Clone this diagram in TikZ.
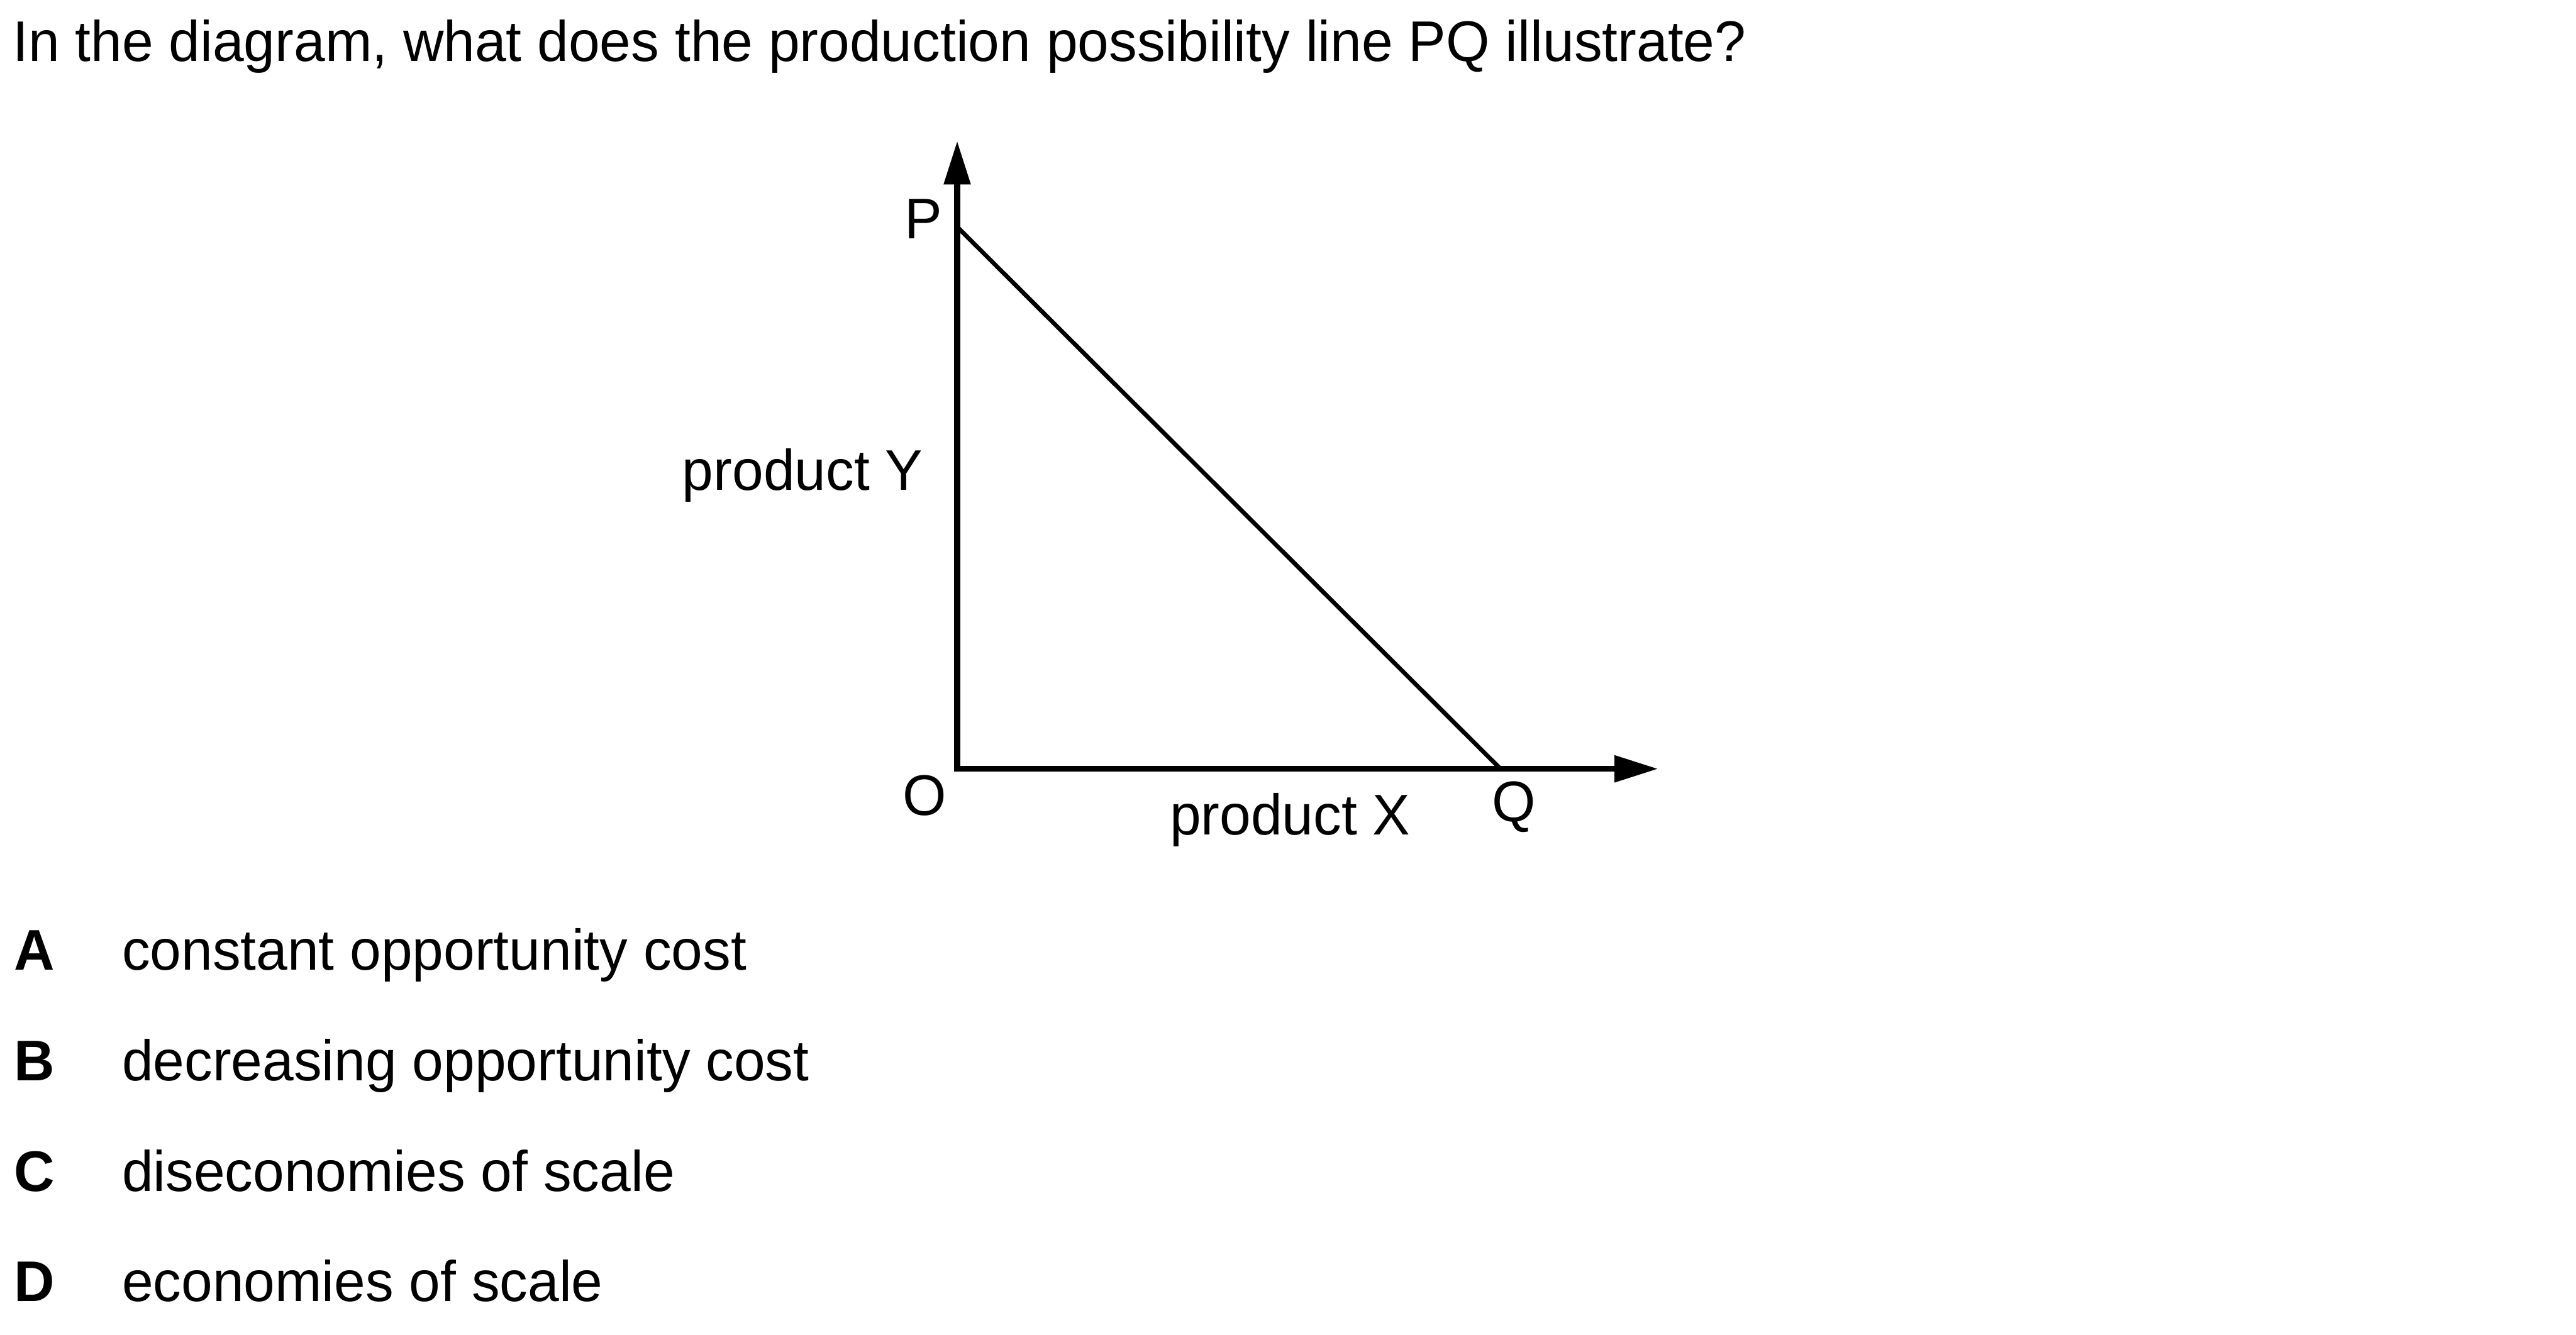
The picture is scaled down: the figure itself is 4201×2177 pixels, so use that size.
\documentclass[tikz,border=0pt]{standalone}
\usepackage{fontspec}
\setmainfont[FakeStretch=0.98]{Liberation Sans}
\usetikzlibrary{arrows.meta}

\tikzset{
  txt/.style={inner sep=0pt, font=\fontsize{18.7}{22}\selectfont},
  axis/.style={line width=1.9pt, line join=miter,
    {Triangle[length=14.2pt,width=8.4pt]}-{Triangle[length=14.2pt,width=8.4pt]}},
}

\begin{document}
\begin{tikzpicture}[x=0.2pt,y=0.2pt]
    \useasboundingbox (0,0) rectangle (4201,2177);

    \node[txt, anchor=base west] (question) at (20,2077)
      {In the diagram, what does the production possibility line PQ illustrate?};

    \coordinate (O) at (1561,923);
    \coordinate (P) at (1561,1807);
    \coordinate (Q) at (2447,923);
    \coordinate (ytop) at (1561,1947);
    \coordinate (xend) at (2704,923);

    \draw[axis] (ytop) -- (O) -- (xend);
    \draw[line width=1.4pt] (P) -- (Q);

    \node[txt, anchor=base] (labP) at (1506,1788) {P};
    \node[txt, anchor=base] (labO) at (1508,847) {O};
    \node[txt, anchor=base] (labQ) at (2469,837) {Q};
    \node[txt, anchor=base east] (prodY) at (1506,1378) {product Y};
    \node[txt, anchor=base east] (prodX) at (2301,815) {product X};

    \node[txt, anchor=base west, font=\fontsize{18.7}{22}\selectfont\bfseries] (letA) at (22,595) {A};
    \node[txt, anchor=base west] (optA) at (198,595) {constant opportunity cost};
    \node[txt, anchor=base west, font=\fontsize{18.7}{22}\selectfont\bfseries] (letB) at (22,414) {B};
    \node[txt, anchor=base west] (optB) at (198,414) {decreasing opportunity cost};
    \node[txt, anchor=base west, font=\fontsize{18.7}{22}\selectfont\bfseries] (letC) at (22,234) {C};
    \node[txt, anchor=base west] (optC) at (198,234) {diseconomies of scale};
    \node[txt, anchor=base west, font=\fontsize{18.7}{22}\selectfont\bfseries] (letD) at (22,54) {D};
    \node[txt, anchor=base west] (optD) at (198,54) {economies of scale};
  \end{tikzpicture}
\end{document}
